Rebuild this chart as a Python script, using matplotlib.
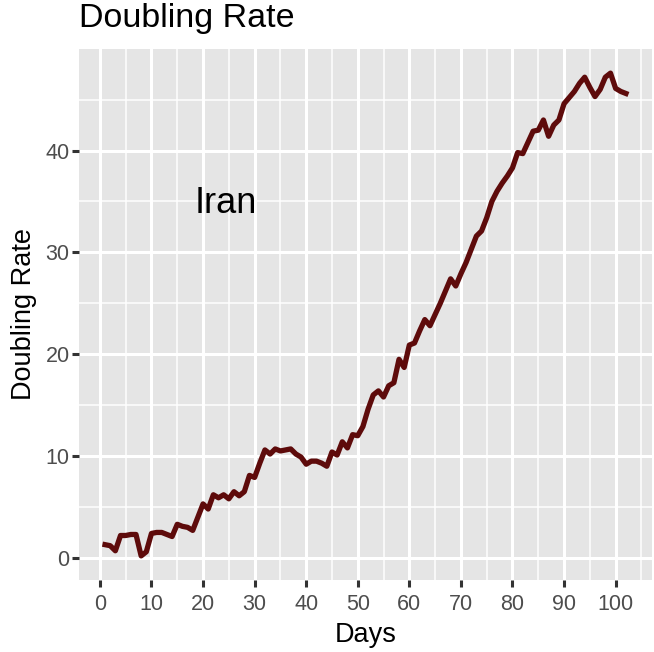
import numpy as np
import matplotlib
matplotlib.use("Agg")
import matplotlib.pyplot as plt
from matplotlib.ticker import MultipleLocator

days = list(range(1, 103))
doubling_rate = [
    1.3, 1.2, 0.7, 2.2, 2.2, 2.3, 2.3, 0.2, 0.6, 2.4,
    2.5, 2.5, 2.3, 2.1, 3.3, 3.1, 3.0, 2.7, 4.0, 5.3,
    4.8, 6.2, 5.9, 6.2, 5.8, 6.5, 6.1, 6.5, 8.1, 7.9,
    9.3, 10.6, 10.2, 10.7, 10.5, 10.6, 10.7, 10.2, 9.9, 9.2,
    9.5, 9.5, 9.3, 9.0, 10.4, 10.1, 11.4, 10.8, 12.1, 12.0,
    12.9, 14.6, 16.0, 16.4, 15.8, 16.9, 17.2, 19.5, 18.7, 20.9,
    21.1, 22.3, 23.4, 22.8, 23.9, 25.0, 26.2, 27.4, 26.7, 27.9,
    29.0, 30.3, 31.6, 32.1, 33.4, 35.0, 36.0, 36.8, 37.5, 38.3,
    39.8, 39.7, 40.8, 41.9, 42.0, 43.0, 41.4, 42.5, 43.0, 44.6,
    45.2, 45.8, 46.6, 47.2, 46.2, 45.3, 46.0, 47.2, 47.6, 46.1,
    45.8, 45.6,
]
country = "Iran"
title = "Doubling Rate"

plt.rcParams['font.family'] = ['Liberation Sans', 'DejaVu Sans']

W, H = 654, 652
fig = plt.figure(figsize=(W / 100, H / 100), dpi=100)
ax = fig.add_axes([79 / W, 1 - 580 / H, (652 - 79) / W, (580 - 49) / H])

ax.set_facecolor('#e5e5e5')
for s in ax.spines.values():
    s.set_visible(False)

ax.xaxis.set_major_locator(MultipleLocator(10))
ax.xaxis.set_minor_locator(MultipleLocator(5))
ax.yaxis.set_major_locator(MultipleLocator(10))
ax.yaxis.set_minor_locator(MultipleLocator(5))
ax.grid(which='major', color='white', linewidth=2.2)
ax.grid(which='minor', color='white', linewidth=1.1)
ax.set_axisbelow(True)

ax.plot(days, doubling_rate, color='#5e0b0b', linewidth=3.8,
        solid_joinstyle='round')

# ggplot-style 5% expansion
x0, x1 = min(days), max(days)
y0, y1 = min(doubling_rate), max(doubling_rate)
ax.set_xlim(x0 - 0.05 * (x1 - x0), x1 + 0.05 * (x1 - x0))
ax.set_ylim(y0 - 0.05 * (y1 - y0), y1 + 0.05 * (y1 - y0))

ax.tick_params(which='major', length=4.8, width=2.2, color='#333333',
               labelsize=15.5, labelcolor='#4d4d4d', pad=2)
ax.tick_params(axis='x', which='major', pad=5)
ax.tick_params(which='minor', length=0)

ax.text(24.5, 34.8, country, fontsize=26, ha='center', va='center', color='black')

fig.text(79 / W, 1 - 18 / H, title, fontsize=24.5, ha='left', va='center')
ax.set_xlabel('Days', fontsize=19.5, labelpad=5)
ax.set_ylabel('Doubling Rate', fontsize=19.5, labelpad=6)

fig.savefig('out.png', dpi=100, facecolor='white')
